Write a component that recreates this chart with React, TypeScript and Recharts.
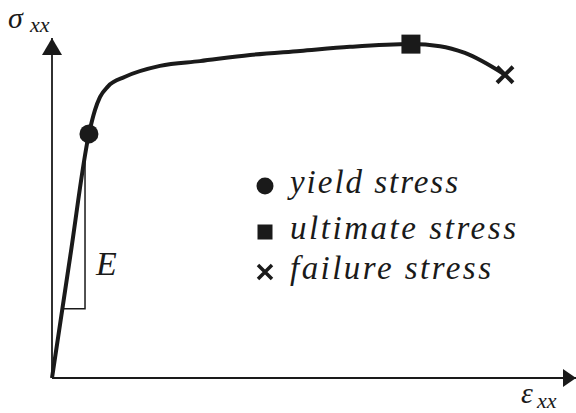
import {
  ComposedChart,
  Line,
  Scatter,
  XAxis,
  YAxis,
  ReferenceLine,
  ReferenceDot,
} from "recharts"

// stress-strain curve (strain in %, stress in MPa)
const strain = [0, 0.7, 1.41, 1.64, 1.83, 2.14, 2.79, 4.12, 5.65, 7.56, 9.47, 11.37, 13.7, 14.81, 15.76, 17.29]
const stress = [0, 180, 359, 394, 413, 429, 443, 459, 466, 475, 481, 487, 491, 488, 478, 446]

// which curve points get a marker
const yieldIdx = 2
const ultimateIdx = 12
const failureIdx = 15

// slope triangle for the elastic modulus
const triStrain = [0.4, 1.26, 1.26]
const triStress = [102, 102, 320]

const legendLabels = ["yield stress", "ultimate stress", "failure stress"]

const ink = "#1a1a1a"
const textStyle = { fontFamily: "'Liberation Serif', serif", fontStyle: "italic" as const }

const curve = strain.map((s, i) => ({ strain: s, stress: stress[i] }))
const triangle = triStrain.map((s, i) => ({ strain: s, stress: triStress[i] }))
const yieldPt = [curve[yieldIdx]]
const ultimatePt = [curve[ultimateIdx]]
const failurePt = [curve[failureIdx]]

const DotShape = ({ cx, cy }: any) => <circle cx={cx} cy={cy} r={9.5} fill={ink} />
const SquareShape = ({ cx, cy }: any) => <rect x={cx - 9.5} y={cy - 9.5} width={19} height={19} fill={ink} />
const CrossShape = ({ cx, cy }: any) => (
  <path
    d={`M${cx - 8},${cy - 8}L${cx + 8},${cy + 8}M${cx + 8},${cy - 8}L${cx - 8},${cy + 8}`}
    stroke={ink}
    strokeWidth={4}
  />
)

const ArrowRight = ({ cx, cy }: any) => (
  <polygon points={`${cx},${cy} ${cx - 13},${cy - 9} ${cx - 13},${cy + 9}`} fill={ink} />
)
const ArrowUp = ({ cx, cy }: any) => (
  <polygon points={`${cx},${cy} ${cx - 10},${cy + 17} ${cx + 10},${cy + 17}`} fill={ink} />
)

// axis labels, the E label and the marker key, laid over the chart
const Annotations = () => {
  const rows = [
    { y: 186, width: 168 },
    { y: 232, width: 226 },
    { y: 272, width: 201 },
  ]
  return (
    <svg
      width={576}
      height={413}
      style={{ position: "absolute", left: 0, top: 0, pointerEvents: "none" }}
    >
      <g fill={ink}>
        <text x={8} y={28} fontSize={30} style={textStyle}>σ</text>
        <text x={30} y={32} fontSize={22} style={textStyle}>xx</text>
        <text x={521} y={403} fontSize={30} style={textStyle}>ε</text>
        <text x={537} y={408} fontSize={22} style={textStyle}>xx</text>
        <text x={96} y={275} fontSize={34} style={textStyle}>E</text>

        <circle cx={265} cy={rows[0].y} r={8.5} />
        <rect x={257.5} y={rows[1].y - 7.5} width={15} height={15} />
        <path
          d={`M${258},${rows[2].y - 7}L${272},${rows[2].y + 7}M${272},${rows[2].y - 7}L${258},${rows[2].y + 7}`}
          stroke={ink}
          strokeWidth={3.5}
        />
        {legendLabels.map((label, i) => (
          <text
            key={label}
            x={290}
            y={rows[i].y + 7}
            fontSize={33}
            textLength={rows[i].width}
            lengthAdjust="spacing"
            style={textStyle}
          >
            {label}
          </text>
        ))}
      </g>
    </svg>
  )
}

export default function App() {
  return (
    <div style={{ position: "absolute", left: 0, top: 0, width: 576, height: 413, background: "#fff" }}>
      <ComposedChart width={576} height={413} margin={{ top: 38, right: 0, bottom: 35, left: 52 }}>
        <XAxis type="number" dataKey="strain" domain={[0, 20]} hide />
        <YAxis type="number" dataKey="stress" domain={[0, 500]} hide />

        <ReferenceLine x={0} stroke={ink} strokeWidth={1.8} />
        <ReferenceLine y={0} stroke={ink} strokeWidth={1.8} />
        <ReferenceDot x={20} y={0} shape={ArrowRight} />
        <ReferenceDot x={0} y={500} shape={ArrowUp} />

        <Line
          data={triangle}
          dataKey="stress"
          type="linear"
          stroke={ink}
          strokeWidth={1.5}
          dot={false}
          isAnimationActive={false}
        />
        <Line
          data={curve}
          dataKey="stress"
          type="monotone"
          stroke={ink}
          strokeWidth={4}
          dot={false}
          isAnimationActive={false}
        />
        <Scatter data={yieldPt} shape={DotShape} isAnimationActive={false} />
        <Scatter data={ultimatePt} shape={SquareShape} isAnimationActive={false} />
        <Scatter data={failurePt} shape={CrossShape} isAnimationActive={false} />
      </ComposedChart>
      <Annotations />
    </div>
  )
}
